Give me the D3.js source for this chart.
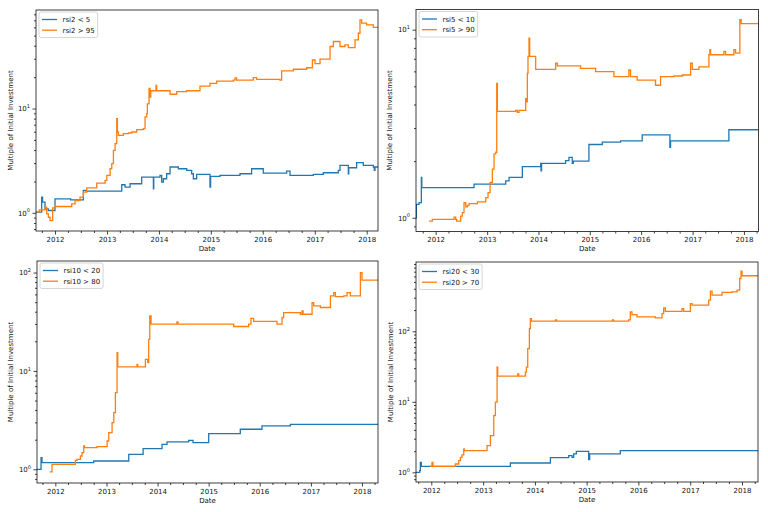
<!DOCTYPE html>
<html><head><meta charset="utf-8">
<script src="https://cdn.jsdelivr.net/npm/d3@7"></script>
<style>body{margin:0;background:#fff} svg text{font-family:"DejaVu Sans",sans-serif;fill:#111}</style>
</head><body><svg id="c" width="768" height="512"></svg>
<script>
// ---- data: [decimal year, multiple of initial investment] ----
const rsi2Low = [[2011.634,1.015],[2011.743,1.415],[2011.760,1.266],[2011.808,1.093],[2011.870,1.053],[2012.0,1.363],[2012.30,1.334],[2012.545,1.640],[2012.60,1.616],[2013.283,1.859],[2013.347,1.765],[2013.444,1.901],[2013.668,2.201],[2013.893,1.701],[2013.90,2.201],[2014.021,2.284],[2014.053,1.971],[2014.085,2.123],[2014.149,2.370],[2014.214,2.750],[2014.374,2.648],[2014.534,2.551],[2014.631,2.370],[2014.663,2.123],[2014.727,2.336],[2014.984,1.765],[2014.996,2.235],[2015.176,2.284],[2015.561,2.370],[2015.786,2.648],[2016.010,2.406],[2016.459,2.514],[2016.524,2.284],[2016.973,2.336],[2017.165,2.423],[2017.454,2.551],[2017.486,2.852],[2017.646,2.370],[2017.655,2.706],[2017.807,3.025],[2017.935,2.852],[2018.128,2.750],[2018.147,2.551],[2018.160,2.750]];
const rsi2High = [[2011.634,1.02],[2011.70,1.07],[2011.808,1.134],[2011.840,0.978],[2011.872,0.908],[2011.904,0.844],[2011.955,1.117],[2012.0,1.151],[2012.321,1.220],[2012.385,1.314],[2012.481,1.415],[2012.545,1.580],[2012.610,1.739],[2012.802,1.928],[2012.962,2.045],[2012.995,2.284],[2013.059,2.648],[2013.091,2.960],[2013.123,3.972],[2013.155,4.610],[2013.187,8.01],[2013.200,5.96],[2013.219,5.53],[2013.315,5.74],[2013.412,5.83],[2013.476,5.96],[2013.572,6.28],[2013.700,6.41],[2013.732,8.31],[2013.765,8.94],[2013.777,11.1],[2013.809,15.6],[2013.829,12.9],[2013.842,14.8],[2013.944,16.7],[2013.957,14.8],[2014.214,13.7],[2014.342,14.5],[2014.534,14.8],[2014.791,16.4],[2014.984,17.4],[2015.112,18.3],[2015.433,18.7],[2015.465,19.7],[2015.497,18.7],[2015.818,19.8],[2015.882,19.0],[2016.331,18.7],[2016.363,23.0],[2016.588,23.8],[2016.844,24.6],[2016.954,29.2],[2017.005,27.0],[2017.101,29.7],[2017.294,39.3],[2017.358,43.9],[2017.486,39.3],[2017.582,40.7],[2017.646,38.3],[2017.775,45.6],[2017.839,52.7],[2017.871,70.8],[2017.903,65.8],[2017.999,63.3],[2018.128,60.1]];
const rsi5Low = [[2011.617,1.0],[2011.624,1.179],[2011.676,1.203],[2011.721,1.638],[2011.730,1.447],[2012.746,1.509],[2013.362,1.572],[2013.427,1.638],[2013.686,1.868],[2014.043,1.947],[2014.050,1.778],[2014.060,1.947],[2014.529,2.012],[2014.594,2.096],[2014.659,1.947],[2014.678,2.0],[2014.983,2.451],[2015.243,2.522],[2015.599,2.564],[2016.021,2.761],[2016.559,2.371],[2016.572,2.564],[2017.707,2.937]];
const rsi5High = [[2011.870,0.960],[2011.935,0.980],[2012.357,1.008],[2012.389,0.98],[2012.409,0.960],[2012.486,1.021],[2012.519,1.064],[2012.551,1.203],[2012.584,1.141],[2012.616,1.164],[2012.649,1.188],[2012.811,1.213],[2012.973,1.280],[2013.018,1.361],[2013.057,1.540],[2013.102,1.815],[2013.135,2.184],[2013.167,2.229],[2013.187,5.178],[2013.200,3.681],[2013.556,3.726],[2013.589,3.637],[2013.621,3.726],[2013.751,4.301],[2013.770,4.132],[2013.783,5.854],[2013.796,7.206],[2013.816,9.012],[2013.829,7.206],[2013.946,6.157],[2014.335,6.630],[2014.367,6.418],[2014.821,6.232],[2015.113,5.977],[2015.470,5.623],[2015.761,6.104],[2015.794,5.623],[2015.923,5.395],[2016.280,5.065],[2016.377,5.623],[2016.637,5.670],[2016.799,5.740],[2016.961,6.630],[2016.994,6.157],[2017.123,6.345],[2017.318,7.357],[2017.337,7.824],[2017.350,7.357],[2017.610,7.665],[2017.642,7.357],[2017.804,7.824],[2017.837,7.508],[2017.921,11.30],[2017.947,10.77]];
const rsi10Low = [[2011.641,1.0],[2011.720,1.314],[2011.739,1.169],[2012.750,1.215],[2013.435,1.420],[2013.716,1.622],[2014.087,1.795],[2014.185,1.897],[2014.609,1.972],[2014.694,1.867],[2015.001,2.305],[2015.620,2.553],[2016.044,2.758],[2016.599,2.868]];
const rsi10High = [[2011.889,0.94],[2011.935,1.124],[2012.391,1.234],[2012.424,1.264],[2012.489,1.366],[2012.522,1.477],[2012.554,1.727],[2012.568,1.662],[2012.815,1.700],[2013.011,1.940],[2013.044,2.361],[2013.109,2.984],[2013.142,3.770],[2013.174,6.011],[2013.207,15.32],[2013.220,10.97],[2013.598,11.67],[2013.611,10.97],[2013.761,13.13],[2013.807,12.15],[2013.826,20.97],[2013.846,36.26],[2013.872,29.89],[2014.38,31.5],[2014.40,29.89],[2015.490,28.30],[2015.783,29.89],[2015.829,34.15],[2015.881,31.86],[2016.338,29.89],[2016.436,34.92],[2016.468,39.14],[2016.795,37.67],[2016.827,40.69],[2016.847,37.67],[2017.023,49.5],[2017.055,45.8],[2017.186,44.1],[2017.382,57.8],[2017.447,62.6],[2017.479,57.0],[2017.643,57.8],[2017.708,62.6],[2017.773,57.8],[2017.969,100],[2018.001,83.8]];
const rsi20Low = [[2011.704,1.0],[2011.775,1.056],[2011.788,1.387],[2011.807,1.217],[2013.526,1.357],[2014.299,1.616],[2014.653,1.726],[2014.717,1.634],[2014.749,1.823],[2014.801,1.99],[2015.039,1.514],[2015.059,1.823],[2015.651,2.033]];
const rsi20High = [[2011.981,1.217],[2012.013,1.387],[2012.032,1.217],[2012.464,1.314],[2012.528,1.465],[2012.560,1.634],[2012.592,1.764],[2012.625,2.145],[2012.637,2.033],[2013.075,2.394],[2013.140,3.32],[2013.204,6.38],[2013.236,9.87],[2013.269,31.0],[2013.281,23.1],[2013.668,24.9],[2013.687,23.1],[2013.816,26.4],[2013.835,31.0],[2013.861,56.8],[2013.893,109],[2013.912,151],[2013.932,139],[2014.40,145],[2014.42,139],[2015.50,145],[2015.52,139],[2015.812,145],[2015.844,188],[2015.876,172],[2015.973,160],[2016.327,155],[2016.456,178],[2016.488,215],[2016.520,192],[2016.842,210],[2016.874,192],[2017.003,246],[2017.035,235],[2017.357,276],[2017.390,371],[2017.422,325],[2017.615,356],[2017.808,362],[2017.905,383],[2017.956,560],[2017.982,711],[2018.001,613]];

const legendLabels = [["rsi2 < 5","rsi2 > 95"],["rsi5 < 10","rsi5 > 90"],["rsi10 < 20","rsi10 > 80"],["rsi20 < 30","rsi20 > 70"]];
const yearTicks = [2012,2013,2014,2015,2016,2017,2018];
const xLabel = "Date";
const yLabel = "Multiple of Initial Investment";
const seriesColors = ["#1f77b4","#ff7f0e"];

const panels = [
  {low: rsi2Low, high: rsi2High, labels: legendLabels[0], xDom:[2011.634,2018.218], yDom:[0.67,88], l:36, r:378, t:10, b:231, yl:10},
  {low: rsi5Low, high: rsi5High, labels: legendLabels[1], xDom:[2011.617,2018.284], yDom:[0.845,12.8], l:416, r:758.5, t:9.5, b:231.5, yl:389},
  {low: rsi10Low, high: rsi10High, labels: legendLabels[2], xDom:[2011.641,2018.314], yDom:[0.726,131], l:37, r:378, t:261, b:483, yl:10},
  {low: rsi20Low, high: rsi20High, labels: legendLabels[3], xDom:[2011.704,2018.310], yDom:[0.73,960], l:416, r:758, t:262, b:482, yl:390}
];

function yr(d){ const y=Math.floor(d); const s=Date.UTC(y,0,1), e=Date.UTC(y+1,0,1); return new Date(s+(d-y)*(e-s)); }

const svg = d3.select("#c");
const FS = 7;

panels.forEach((p,i)=>{
  const g = svg.append("g");
  const x = d3.scaleUtc().domain(p.xDom.map(yr)).range([p.l,p.r]);
  const y = d3.scaleLog().domain(p.yDom).range([p.b,p.t]);

  g.append("clipPath").attr("id","clip"+i).append("rect")
    .attr("x",p.l).attr("y",p.t).attr("width",p.r-p.l).attr("height",p.b-p.t);

  // lines
  const line = d3.line().x(d=>x(yr(d[0]))).y(d=>y(d[1])).curve(d3.curveStepAfter);
  [p.low,p.high].forEach((s,k)=>{
    const ext = s.concat([[p.xDom[1], s[s.length-1][1]]]);
    g.append("path").attr("d",line(ext)).attr("fill","none")
      .attr("stroke",seriesColors[k]).attr("stroke-width",1.3)
      .attr("stroke-linejoin","miter").attr("clip-path","url(#clip"+i+")");
  });

  // x axis
  const [x0,x1] = x.domain();
  const minorX = d3.utcMonth.range(x0,x1).filter(d=>d.getUTCMonth()%3===0 && d.getUTCMonth()!==0);
  const xMinor = g.append("g").attr("transform",`translate(0,${p.b})`)
    .call(d3.axisBottom(x).tickValues(minorX).tickSize(2).tickFormat(""));
  xMinor.select(".domain").remove();
  const xa = g.append("g").attr("transform",`translate(0,${p.b})`)
    .call(d3.axisBottom(x).tickValues(yearTicks.map(yr)).tickSize(3.5).tickPadding(2.5).tickFormat(d3.utcFormat("%Y")));
  xa.select(".domain").remove();
  xa.selectAll("text").attr("font-size",FS).style("font-family","DejaVu Sans");

  // y axis
  const [ylo,yhi] = p.yDom;
  const majors=[], minors=[];
  for(let e=Math.floor(Math.log10(ylo)); e<=Math.ceil(Math.log10(yhi)); e++){
    const v=Math.pow(10,e);
    if(v>=ylo && v<=yhi) majors.push(e);
    for(let k=2;k<10;k++){ const m=k*v; if(m>=ylo && m<=yhi) minors.push(m); }
  }
  const yMinor = g.append("g").attr("transform",`translate(${p.l},0)`)
    .call(d3.axisLeft(y).tickValues(minors).tickSize(2).tickFormat(""));
  yMinor.select(".domain").remove();
  const ya = g.append("g").attr("transform",`translate(${p.l},0)`)
    .call(d3.axisLeft(y).tickValues(majors.map(e=>Math.pow(10,e))).tickSize(3.5).tickFormat(""));
  ya.select(".domain").remove();
  majors.forEach(e=>{
    const t = g.append("text").attr("x",p.l-6).attr("y",y(Math.pow(10,e))+2.8)
      .attr("text-anchor","end").attr("font-size",FS);
    t.append("tspan").text("10");
    t.append("tspan").attr("font-size",5).attr("dy",-3.2).text(String(e));
  });
  g.selectAll(".tick line").attr("stroke","#111").attr("stroke-width",0.8);

  // frame
  g.append("rect").attr("x",p.l).attr("y",p.t).attr("width",p.r-p.l).attr("height",p.b-p.t)
    .attr("fill","none").attr("stroke","#111").attr("stroke-width",0.8);

  // axis labels
  g.append("text").attr("x",(p.l+p.r)/2).attr("y",p.b+19.5).attr("text-anchor","middle")
    .attr("font-size",FS).text(xLabel);
  g.append("text").attr("transform",`translate(${p.yl + 2.5},${(p.t+p.b)/2}) rotate(-90)`)
    .attr("text-anchor","middle").attr("font-size",FS).text(yLabel);

  // legend
  const lg = g.append("g");
  const bx = p.l+3, by = p.t+2;
  const box = lg.append("rect").attr("x",bx).attr("y",by).attr("height",25.5)
    .attr("rx",2).attr("fill","#fff").attr("fill-opacity",0.85).attr("stroke","#ccc").attr("stroke-width",0.8);
  let maxW=0;
  p.labels.forEach((lab,k)=>{
    const cy = by + 7.5 + k*10.7;
    lg.append("line").attr("x1",bx+3).attr("x2",bx+18).attr("y1",cy).attr("y2",cy)
      .attr("stroke",seriesColors[k]).attr("stroke-width",1.3);
    const t = lg.append("text").attr("x",bx+23.5).attr("y",cy+2.5).attr("font-size",FS).text(lab);
    maxW = Math.max(maxW, t.node().getComputedTextLength());
  });
  box.attr("width", 23.5 + maxW + 3);
});
</script></body></html>
